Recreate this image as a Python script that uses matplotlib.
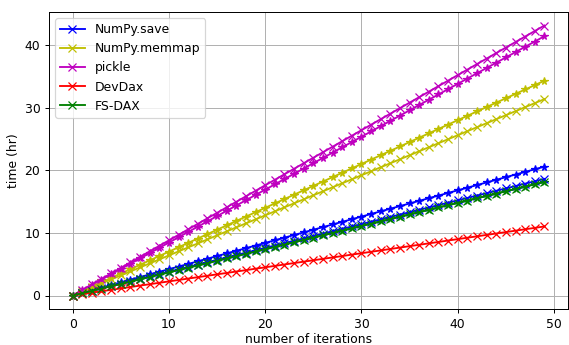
import matplotlib
matplotlib.use("Agg")
import matplotlib.pyplot as plt

iterations = list(range(50))

numpy_save_x = [0, 0.38, 0.76, 1.14, 1.52, 1.90, 2.28, 2.66, 3.04, 3.42, 3.80, 4.18, 4.56, 4.94, 5.32, 5.70, 6.08, 6.46, 6.84, 7.22, 7.60, 7.98, 8.36, 8.74, 9.12, 9.50, 9.88, 10.26, 10.64, 11.02, 11.40, 11.78, 12.16, 12.54, 12.92, 13.30, 13.68, 14.06, 14.44, 14.82, 15.20, 15.58, 15.96, 16.34, 16.72, 17.10, 17.48, 17.86, 18.24, 18.62]
numpy_save_star = [0, 0.42, 0.84, 1.26, 1.68, 2.10, 2.52, 2.94, 3.36, 3.78, 4.20, 4.62, 5.04, 5.46, 5.88, 6.30, 6.72, 7.14, 7.56, 7.98, 8.40, 8.82, 9.24, 9.66, 10.08, 10.50, 10.92, 11.34, 11.76, 12.18, 12.60, 13.02, 13.44, 13.86, 14.28, 14.70, 15.12, 15.54, 15.96, 16.38, 16.80, 17.22, 17.64, 18.06, 18.48, 18.90, 19.32, 19.74, 20.16, 20.58]
memmap_x = [0, 0.64, 1.28, 1.92, 2.56, 3.20, 3.84, 4.48, 5.12, 5.76, 6.40, 7.04, 7.68, 8.32, 8.96, 9.60, 10.24, 10.88, 11.52, 12.16, 12.80, 13.44, 14.08, 14.72, 15.36, 16.00, 16.64, 17.28, 17.92, 18.56, 19.20, 19.84, 20.48, 21.12, 21.76, 22.40, 23.04, 23.68, 24.32, 24.96, 25.60, 26.24, 26.88, 27.52, 28.16, 28.80, 29.44, 30.08, 30.72, 31.36]
memmap_star = [0, 0.7, 1.4, 2.1, 2.8, 3.5, 4.2, 4.9, 5.6, 6.3, 7.0, 7.7, 8.4, 9.1, 9.8, 10.5, 11.2, 11.9, 12.6, 13.3, 14.0, 14.7, 15.4, 16.1, 16.8, 17.5, 18.2, 18.9, 19.6, 20.3, 21.0, 21.7, 22.4, 23.1, 23.8, 24.5, 25.2, 25.9, 26.6, 27.3, 28.0, 28.7, 29.4, 30.1, 30.8, 31.5, 32.2, 32.9, 33.6, 34.3]
pickle_x = [0, 0.88, 1.76, 2.64, 3.52, 4.40, 5.28, 6.16, 7.04, 7.92, 8.80, 9.68, 10.56, 11.44, 12.32, 13.20, 14.08, 14.96, 15.84, 16.72, 17.60, 18.48, 19.36, 20.24, 21.12, 22.00, 22.88, 23.76, 24.64, 25.52, 26.40, 27.28, 28.16, 29.04, 29.92, 30.80, 31.68, 32.56, 33.44, 34.32, 35.20, 36.08, 36.96, 37.84, 38.72, 39.60, 40.48, 41.36, 42.24, 43.12]
pickle_star = [0, 0.85, 1.69, 2.54, 3.38, 4.23, 5.07, 5.92, 6.76, 7.61, 8.45, 9.30, 10.14, 10.99, 11.83, 12.68, 13.52, 14.37, 15.21, 16.06, 16.90, 17.75, 18.59, 19.44, 20.28, 21.13, 21.97, 22.82, 23.66, 24.51, 25.35, 26.20, 27.04, 27.89, 28.73, 29.58, 30.42, 31.27, 32.11, 32.96, 33.80, 34.65, 35.49, 36.34, 37.18, 38.03, 38.87, 39.72, 40.56, 41.41]
devdax_x = [0, 0.23, 0.45, 0.68, 0.90, 1.13, 1.35, 1.58, 1.80, 2.03, 2.25, 2.48, 2.70, 2.93, 3.15, 3.38, 3.60, 3.83, 4.05, 4.28, 4.50, 4.73, 4.95, 5.18, 5.40, 5.63, 5.85, 6.08, 6.30, 6.53, 6.75, 6.98, 7.20, 7.43, 7.65, 7.88, 8.10, 8.33, 8.55, 8.78, 9.00, 9.23, 9.45, 9.68, 9.90, 10.13, 10.35, 10.58, 10.80, 11.03]
fsdax_x = [0, 0.37, 0.74, 1.11, 1.48, 1.85, 2.22, 2.59, 2.96, 3.33, 3.70, 4.07, 4.44, 4.81, 5.18, 5.55, 5.92, 6.29, 6.66, 7.03, 7.40, 7.77, 8.14, 8.51, 8.88, 9.25, 9.62, 9.99, 10.36, 10.73, 11.10, 11.47, 11.84, 12.21, 12.58, 12.95, 13.32, 13.69, 14.06, 14.43, 14.80, 15.17, 15.54, 15.91, 16.28, 16.65, 17.02, 17.39, 17.76, 18.13]
fsdax_star = [0, 0.37, 0.74, 1.11, 1.48, 1.85, 2.22, 2.59, 2.96, 3.33, 3.70, 4.07, 4.44, 4.81, 5.18, 5.55, 5.92, 6.29, 6.66, 7.03, 7.40, 7.77, 8.14, 8.51, 8.88, 9.25, 9.62, 9.99, 10.36, 10.73, 11.10, 11.47, 11.84, 12.21, 12.58, 12.95, 13.32, 13.69, 14.06, 14.43, 14.80, 15.17, 15.54, 15.91, 16.28, 16.65, 17.02, 17.39, 17.76, 18.13]

labels = ["NumPy.save", "NumPy.memmap", "pickle", "DevDax", "FS-DAX"]
colors = ["b", "y", "m", "r", "g"]

DPI = 569 / 6.4
fig = plt.figure(figsize=(6.4, 345 / DPI), dpi=DPI)
ax = fig.add_subplot(111)
fig.subplots_adjust(left=49/569, right=568/569, top=1-12/345, bottom=1-309/345)

star_series = [numpy_save_star, memmap_star, pickle_star, None, fsdax_star]
x_series = [numpy_save_x, memmap_x, pickle_x, devdax_x, fsdax_x]

for ys, c in zip(star_series, colors):
    if ys is not None:
        ax.plot(iterations, ys, color=c, marker="*")
for ys, c, lab in zip(x_series, colors, labels):
    ax.plot(iterations, ys, color=c, marker="x", label=lab)

ax.set_xlabel("number of iterations", labelpad=1.8)
ax.set_ylabel("time (hr)")
ax.grid(True)
handles, labs = ax.get_legend_handles_labels()
ax.legend(handles, labs, loc="upper left")

fig.savefig("out.png", dpi=DPI)
